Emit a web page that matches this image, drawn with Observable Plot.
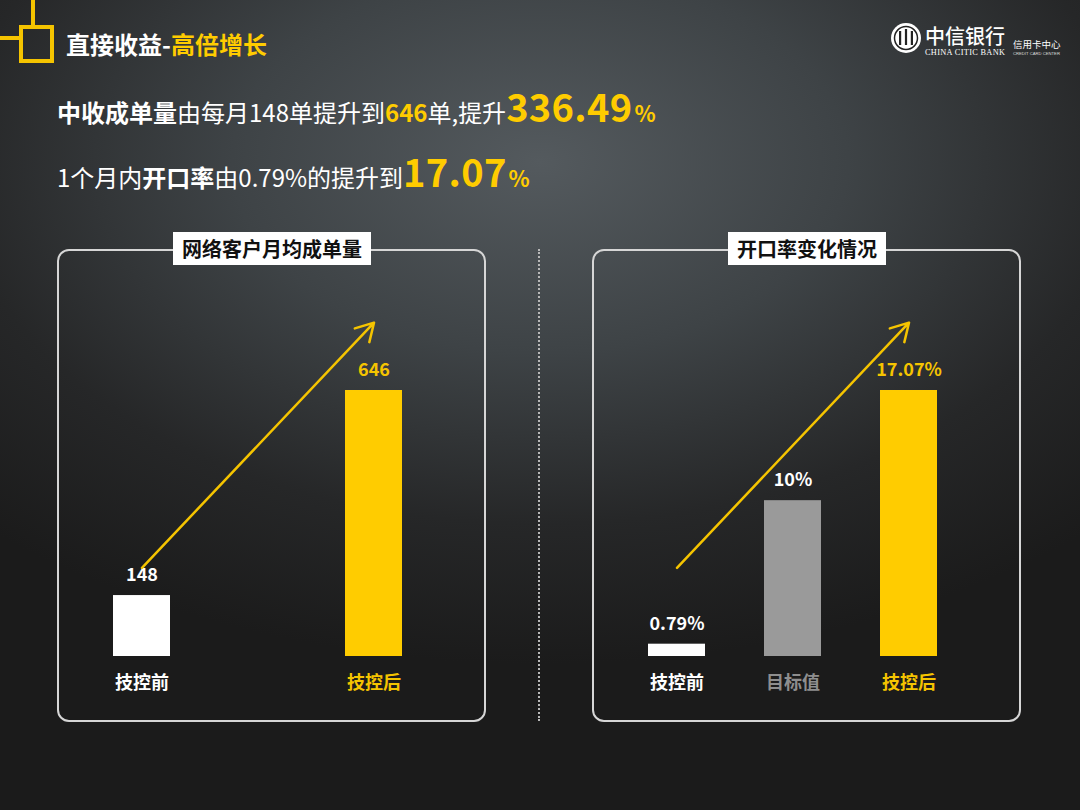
<!DOCTYPE html>
<html><head><meta charset="utf-8">
<script src="https://cdn.jsdelivr.net/npm/d3@7"></script>
<script src="https://cdn.jsdelivr.net/npm/@observablehq/plot@0.6"></script>
<style>
html,body{margin:0;padding:0;}
body{width:1080px;height:810px;overflow:hidden;position:relative;
 font-family:"Noto Sans CJK SC","Noto Sans",sans-serif;
 background: radial-gradient(ellipse 75% 62% at 50% 20%, #545a5e 0%, #3e4346 38%, #262728 72%, #1b1b1b 100%);}
.abs{position:absolute;}
.title{left:66px;top:32px;font-size:24px;line-height:24px;font-weight:bold;color:#fff;white-space:nowrap;}
.y{color:#ffcc00;}
.line{left:57px;font-size:24px;line-height:48px;color:#fff;white-space:nowrap;}
.line b{font-weight:bold;}
.big{font-size:38px;letter-spacing:0.3px;}
.pct{font-size:22px;margin-left:2px;}
.panel{border:2px solid #d6d6d6;border-radius:12px;box-sizing:border-box;width:429px;height:473px;top:249px;}
.badge{background:#fff;color:#111;font-weight:bold;font-size:20px;height:33px;line-height:33px;padding:0 9px;top:232px;transform:translateX(-50%);white-space:nowrap;}
.divider{left:538px;top:249px;height:472px;border-left:2px dotted #b8b8b8;}
.chart{top:249px;}
</style>
</head><body>

<svg class="abs" style="left:0;top:0" width="70" height="70">
  <g fill="none" stroke="#f5c400" stroke-width="4">
    <path d="M33,0 V27"/>
    <path d="M0,38 H21"/>
    <rect x="21" y="27" width="31" height="34"/>
  </g>
</svg>
<div class="abs title">直接收益-<span class="y">高倍增长</span></div>

<svg class="abs" style="left:885px;top:18px" width="190" height="44">
  <circle cx="21" cy="20" r="15" fill="#fff"/>
  <circle cx="21" cy="20" r="11.5" fill="none" stroke="#222" stroke-width="1.5"/>
  <g fill="#222">
    <rect x="14" y="13" width="2.2" height="14"/>
    <rect x="19.9" y="11" width="2.2" height="16"/>
    <rect x="25.8" y="13" width="2.2" height="14"/>
  </g>
  <text x="40" y="26" fill="#fff" font-size="20" font-family="Noto Sans CJK SC" font-weight="500" textLength="80" lengthAdjust="spacing">中信银行</text>
  <text x="40" y="37" fill="#fff" font-size="8.3" font-family="Liberation Serif" textLength="80" lengthAdjust="spacing">CHINA CITIC BANK</text>
  <text x="128" y="30" fill="#fff" font-size="9.5" font-family="Noto Sans CJK SC">信用卡中心</text>
  <text x="128" y="37" fill="#ddd" font-size="4.2" font-family="Liberation Sans">CREDIT CARD CENTER</text>
</svg>

<div class="abs line" style="top:82px"><b>中收成单量</b>由每月148单提升到<b class="y">646</b>单,提升<b class="y big">336.49</b><b class="y pct">%</b></div>
<div class="abs line" style="top:147px">1个月内<b>开口率</b>由0.79%的提升到<b class="y big">17.07</b><b class="y pct">%</b></div>

<div class="abs panel" style="left:57px"></div>
<div class="abs panel" style="left:592px"></div>
<div class="abs divider"></div>
<div class="abs chart" id="left" style="left:57px"></div>
<div class="abs chart" id="right" style="left:592px"></div>
<div class="abs badge" id="leftBadge" style="left:272px"></div>
<div class="abs badge" id="rightBadge" style="left:807px"></div>

<script>
// ---- data ----
const leftTitle = "网络客户月均成单量";
const leftCategories = ["技控前", "技控后"];
const leftValues = [148, 646];
const leftLabels = ["148", "646"];

const rightTitle = "开口率变化情况";
const rightCategories = ["技控前", "目标值", "技控后"];
const rightValues = [0.79, 10, 17.07];
const rightLabels = ["0.79%", "10%", "17.07%"];

// ---- styles ----
const barFill = {"技控前": "#ffffff", "目标值": "#9a9a9a", "技控后": "#ffcc00"};
const valueFill = {"技控前": "#ffffff", "目标值": "#ffffff", "技控后": "#f5c400"};
const catFill = {"技控前": "#ffffff", "目标值": "#8e8e8e", "技控后": "#f5c400"};
const FONT = "Noto Sans CJK SC";

function drawPanel(el, cats, vals, labels) {
  const data = cats.map((c, i) => ({cat: c, value: vals[i], label: labels[i]}));
  const max = d3.max(vals);
  const R = 289, bw = 57, n = cats.length;
  const pi = (R - bw * n) / (R - bw);
  const arrow = [{x1: cats[0], x2: cats[n - 1], y1: max / 3, y2: max * 1.255}];
  const chart = Plot.plot({
    width: 429,
    height: 473,
    style: {background: "transparent", overflow: "visible", fontFamily: FONT},
    x: {type: "band", domain: cats, range: [56, 56 + R], paddingInner: pi, paddingOuter: 0, align: 0.5, axis: null},
    y: {domain: [0, max], range: [407, 141], axis: null},
    marks: [
      Plot.barY(data, {x: "cat", y: "value", fill: d => barFill[d.cat]}),
      Plot.text(data, {x: "cat", y: "value", text: "label", dy: -20, fill: d => valueFill[d.cat],
        fontSize: 18, fontWeight: "bold", fontFamily: FONT}),
      Plot.text(data, {x: "cat", y: d => 0, text: "cat", dy: 27, fill: d => catFill[d.cat],
        fontSize: 18, fontWeight: "bold", fontFamily: FONT}),
      Plot.arrow(arrow, {x1: "x1", x2: "x2", y1: "y1", y2: "y2", stroke: "#f5c400",
        strokeWidth: 2.5, headLength: 12})
    ]
  });
  document.getElementById(el).appendChild(chart);
}

drawPanel("left", leftCategories, leftValues, leftLabels);
drawPanel("right", rightCategories, rightValues, rightLabels);
document.getElementById("leftBadge").textContent = leftTitle;
document.getElementById("rightBadge").textContent = rightTitle;
</script>
</body></html>
